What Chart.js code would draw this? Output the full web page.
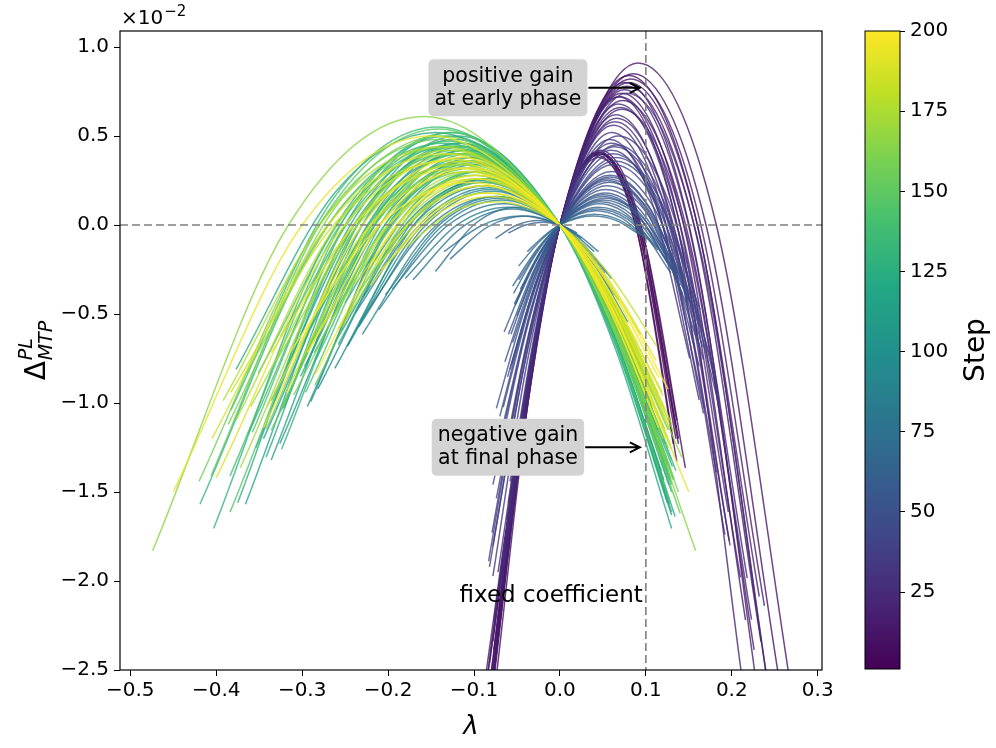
<!DOCTYPE html>
<html>
<head>
<meta charset="utf-8">
<script src="https://cdn.jsdelivr.net/npm/chart.js@4.4.1/dist/chart.umd.min.js"></script>
<style>
  html, body { margin: 0; padding: 0; background: #fff; }
  #wrap { position: relative; width: 996px; height: 748px; }
  canvas { position: absolute; left: 0; top: 0; }
</style>
</head>
<body>
<div id="wrap">
  <canvas id="curveChart" width="996" height="748"></canvas>
  <canvas id="stepBar" width="996" height="748"></canvas>
</div>
<script>
// --- axis ticks ---
const xTicks = [-0.5, -0.4, -0.3, -0.2, -0.1, 0, 0.1, 0.2, 0.3];
const yTicks = [-2.5, -2.0, -1.5, -1.0, -0.5, 0, 0.5, 1.0];
const stepTicks = [25, 50, 75, 100, 125, 150, 175, 200];
const stepMin = 1, stepMax = 200;

// reference lines (dashed)
const refDelta = 0;
const refLambda = 0.1;

// --- curves: one per step, lambda / delta (x10^-2) ---
const curveSteps = [
  165, 193, 188, 148, 128, 140, 176, 183, 135, 118,
  170, 158, 125, 197, 145, 180, 112, 155, 199, 133,
  172, 115, 162, 186, 105, 150, 195, 100, 178, 138,
  122, 160, 190, 168, 108, 185, 143, 198, 175, 152,
  130, 120, 192, 182, 103, 142, 157, 173, 113, 127,
  101, 107, 111, 116, 121, 126, 131, 136, 141, 146,
  151, 154, 159, 163, 167, 171, 177, 184, 189, 194, 200, 117, 106,
  95, 88, 82, 78, 72, 64, 60, 90, 98, 85, 75, 93, 80, 96, 91, 86, 77, 73,
  68, 62, 58, 55, 52, 50, 48, 45, 44, 65, 60, 56, 53, 47, 42, 40, 38, 36, 70, 34, 57, 49, 41,
  63, 54, 46, 39, 37,
  1, 3, 5, 7, 9, 2, 4, 6, 12, 15, 18, 11, 20, 14, 22, 16, 24, 13, 26, 19, 28, 30, 17, 21, 10, 25, 32, 27, 23, 33, 8
];

const curveLambda = [
  [-0.474, -0.316, -0.158, 0, 0.079, 0.158],
  [-0.45, -0.3, -0.15, 0, 0.075, 0.15],
  [-0.405, -0.27, -0.135, 0, 0.061, 0.122],
  [-0.406, -0.273, -0.14, 0, 0.07, 0.14],
  [-0.403, -0.267, -0.13, 0, 0.065, 0.13],
  [-0.384, -0.256, -0.128, 0, 0.064, 0.128],
  [-0.377, -0.254, -0.13, 0, 0.065, 0.13],
  [-0.383, -0.257, -0.132, 0, 0.059, 0.119],
  [-0.363, -0.244, -0.125, 0, 0.063, 0.125],
  [-0.354, -0.238, -0.122, 0, 0.067, 0.134],
  [-0.372, -0.246, -0.12, 0, 0.06, 0.12],
  [-0.342, -0.23, -0.118, 0, 0.059, 0.118],
  [-0.322, -0.219, -0.115, 0, 0.063, 0.127],
  [-0.345, -0.23, -0.115, 0, 0.058, 0.115],
  [-0.325, -0.218, -0.112, 0, 0.062, 0.123],
  [-0.319, -0.215, -0.11, 0, 0.055, 0.11],
  [-0.297, -0.204, -0.11, 0, 0.061, 0.121],
  [-0.324, -0.216, -0.108, 0, 0.054, 0.108],
  [-0.294, -0.2, -0.105, 0, 0.053, 0.105],
  [-0.284, -0.194, -0.105, 0, 0.063, 0.126],
  [-0.27, -0.185, -0.1, 0, 0.05, 0.1],
  [-0.25, -0.175, -0.1, 0, 0.06, 0.12],
  [-0.245, -0.172, -0.098, 0, 0.054, 0.108],
  [-0.238, -0.166, -0.095, 0, 0.048, 0.095],
  [-0.228, -0.162, -0.095, 0, 0.057, 0.114],
  [-0.234, -0.162, -0.09, 0, 0.05, 0.099],
  [-0.216, -0.153, -0.09, 0, 0.045, 0.09],
  [-0.229, -0.158, -0.088, 0, 0.053, 0.106],
  [-0.213, -0.149, -0.085, 0, 0.047, 0.094],
  [-0.383, -0.263, -0.142, 0, 0.064, 0.128],
  [-0.377, -0.261, -0.145, 0, 0.065, 0.131],
  [-0.386, -0.262, -0.138, 0, 0.069, 0.138],
  [-0.4, -0.263, -0.125, 0, 0.063, 0.125],
  [-0.33, -0.224, -0.118, 0, 0.071, 0.142],
  [-0.336, -0.228, -0.12, 0, 0.06, 0.12],
  [-0.341, -0.226, -0.11, 0, 0.061, 0.121],
  [-0.296, -0.199, -0.102, 0, 0.061, 0.122],
  [-0.285, -0.19, -0.095, 0, 0.062, 0.124],
  [-0.258, -0.175, -0.092, 0, 0.064, 0.129],
  [-0.336, -0.221, -0.105, 0, 0.063, 0.126],
  [-0.419, -0.277, -0.135, 0, 0.068, 0.135],
  [-0.342, -0.23, -0.118, 0, 0.065, 0.13],
  [-0.208, -0.144, -0.08, 0, 0.056, 0.112],
  [-0.18, -0.128, -0.075, 0, 0.056, 0.113],
  [-0.29, -0.195, -0.1, 0, 0.065, 0.13],
  [-0.358, -0.243, -0.128, 0, 0.064, 0.128],
  [-0.42, -0.28, -0.14, 0, 0.063, 0.126],
  [-0.36, -0.24, -0.12, 0, 0.066, 0.132],
  [-0.345, -0.23, -0.115, 0, 0.058, 0.115],
  [-0.324, -0.216, -0.108, 0, 0.065, 0.13],
  [-0.294, -0.196, -0.098, 0, 0.064, 0.127],
  [-0.326, -0.215, -0.105, 0, 0.063, 0.126],
  [-0.336, -0.224, -0.112, 0, 0.062, 0.123],
  [-0.366, -0.242, -0.118, 0, 0.059, 0.118],
  [-0.302, -0.205, -0.108, 0, 0.065, 0.13],
  [-0.375, -0.25, -0.125, 0, 0.063, 0.125],
  [-0.302, -0.207, -0.112, 0, 0.062, 0.123],
  [-0.286, -0.194, -0.102, 0, 0.061, 0.122],
  [-0.351, -0.241, -0.13, 0, 0.065, 0.13],
  [-0.384, -0.252, -0.12, 0, 0.066, 0.132],
  [-0.285, -0.19, -0.095, 0, 0.067, 0.133],
  [-0.325, -0.225, -0.125, 0, 0.063, 0.125],
  [-0.31, -0.205, -0.1, 0, 0.06, 0.12],
  [-0.365, -0.25, -0.135, 0, 0.061, 0.122],
  [-0.286, -0.198, -0.11, 0, 0.061, 0.121],
  [-0.255, -0.172, -0.088, 0, 0.057, 0.114],
  [-0.392, -0.266, -0.14, 0, 0.063, 0.126],
  [-0.29, -0.195, -0.1, 0, 0.065, 0.13],
  [-0.336, -0.228, -0.12, 0, 0.06, 0.12],
  [-0.221, -0.152, -0.082, 0, 0.057, 0.115],
  [-0.315, -0.21, -0.105, 0, 0.063, 0.126],
  [-0.258, -0.175, -0.092, 0, 0.064, 0.129],
  [-0.247, -0.166, -0.085, 0, 0.064, 0.128],
  [-0.248, -0.164, -0.08, 0, 0.036, 0.072],
  [-0.234, -0.156, -0.078, 0, 0.031, 0.062],
  [-0.203, -0.137, -0.07, 0, 0.032, 0.063],
  [-0.195, -0.13, -0.065, 0, 0.026, 0.052],
  [-0.145, -0.098, -0.05, 0, 0.02, 0.04],
  [-0.075, -0.05, -0.025, 0, 0.013, 0.025],
  [-0.06, -0.04, -0.02, 0, 0.01, 0.02],
  [-0.238, -0.162, -0.085, 0, 0.043, 0.085],
  [-0.261, -0.176, -0.09, 0, 0.05, 0.099],
  [-0.18, -0.12, -0.06, 0, 0.03, 0.06],
  [-0.135, -0.09, -0.045, 0, 0.023, 0.045],
  [-0.262, -0.172, -0.082, 0, 0.041, 0.082],
  [-0.233, -0.154, -0.075, 0, 0.034, 0.068],
  [-0.282, -0.185, -0.088, 0, 0.044, 0.088],
  [-0.23, -0.151, -0.072, 0, 0.04, 0.079],
  [-0.211, -0.139, -0.068, 0, 0.034, 0.068],
  [-0.171, -0.113, -0.055, 0, 0.028, 0.055],
  [-0.128, -0.084, -0.04, 0, 0.02, 0.04],
  [-0.048, -0.024, 0, 0.04, 0.07, 0.1],
  [-0.054, -0.027, 0, 0.045, 0.079, 0.113],
  [-0.053, -0.026, 0, 0.048, 0.086, 0.125],
  [-0.06, -0.03, 0, 0.05, 0.09, 0.13],
  [-0.057, -0.029, 0, 0.052, 0.096, 0.14],
  [-0.055, -0.028, 0, 0.055, 0.102, 0.149],
  [-0.061, -0.03, 0, 0.055, 0.099, 0.143],
  [-0.07, -0.035, 0, 0.058, 0.104, 0.151],
  [-0.066, -0.033, 0, 0.06, 0.111, 0.162],
  [-0.055, -0.027, 0, 0.042, 0.071, 0.101],
  [-0.046, -0.023, 0, 0.046, 0.087, 0.129],
  [-0.065, -0.033, 0, 0.05, 0.088, 0.125],
  [-0.064, -0.032, 0, 0.053, 0.101, 0.148],
  [-0.074, -0.037, 0, 0.057, 0.1, 0.143],
  [-0.068, -0.034, 0, 0.062, 0.112, 0.161],
  [-0.078, -0.039, 0, 0.065, 0.114, 0.163],
  [-0.078, -0.039, 0, 0.06, 0.111, 0.162],
  [-0.079, -0.04, 0, 0.066, 0.125, 0.185],
  [-0.038, -0.019, 0, 0.038, 0.065, 0.091],
  [-0.082, -0.041, 0, 0.068, 0.126, 0.184],
  [-0.05, -0.025, 0, 0.05, 0.088, 0.125],
  [-0.056, -0.028, 0, 0.056, 0.109, 0.162],
  [-0.07, -0.035, 0, 0.064, 0.122, 0.179],
  [-0.048, -0.024, 0, 0.044, 0.079, 0.114],
  [-0.052, -0.026, 0, 0.052, 0.096, 0.14],
  [-0.058, -0.029, 0, 0.058, 0.104, 0.151],
  [-0.074, -0.037, 0, 0.062, 0.115, 0.167],
  [-0.083, -0.042, 0, 0.064, 0.115, 0.166],
  [-0.077, -0.038, 0, 0.045, 0.09, 0.135],
  [-0.078, -0.039, 0, 0.046, 0.092, 0.138],
  [-0.075, -0.037, 0, 0.044, 0.09, 0.136],
  [-0.075, -0.038, 0, 0.047, 0.092, 0.136],
  [-0.077, -0.038, 0, 0.045, 0.09, 0.135],
  [-0.083, -0.041, 0, 0.046, 0.092, 0.138],
  [-0.075, -0.037, 0, 0.044, 0.088, 0.132],
  [-0.08, -0.04, 0, 0.047, 0.096, 0.146],
  [-0.087, -0.043, 0, 0.091, 0.182, 0.273],
  [-0.082, -0.041, 0, 0.082, 0.16, 0.238],
  [-0.072, -0.036, 0, 0.08, 0.156, 0.232],
  [-0.078, -0.039, 0, 0.078, 0.156, 0.234],
  [-0.06, -0.03, 0, 0.075, 0.146, 0.218],
  [-0.079, -0.04, 0, 0.072, 0.144, 0.216],
  [-0.063, -0.032, 0, 0.07, 0.133, 0.196],
  [-0.083, -0.041, 0, 0.075, 0.154, 0.233],
  [-0.068, -0.034, 0, 0.068, 0.133, 0.197],
  [-0.073, -0.037, 0, 0.073, 0.15, 0.226],
  [-0.072, -0.036, 0, 0.065, 0.124, 0.182],
  [-0.084, -0.042, 0, 0.07, 0.14, 0.21],
  [-0.068, -0.034, 0, 0.062, 0.115, 0.167],
  [-0.06, -0.03, 0, 0.06, 0.111, 0.162],
  [-0.082, -0.041, 0, 0.068, 0.143, 0.218],
  [-0.059, -0.03, 0, 0.066, 0.132, 0.198],
  [-0.085, -0.043, 0, 0.085, 0.17, 0.255],
  [-0.077, -0.038, 0, 0.064, 0.128, 0.192],
  [-0.058, -0.029, 0, 0.058, 0.104, 0.151],
  [-0.062, -0.031, 0, 0.078, 0.164, 0.25],
  [-0.072, -0.036, 0, 0.072, 0.148, 0.223],
  [-0.078, -0.039, 0, 0.06, 0.114, 0.168],
  [-0.08, -0.04, 0, 0.08, 0.16, 0.24]
];

const curveDelta = [
  [-1.83, 0, 0.61, 0, -0.763, -1.83],
  [-1.5, 0, 0.5, 0, -0.625, -1.5],
  [-1.2, 0, 0.4, 0, -0.441, -1.044],
  [-1.409, 0.053, 0.54, 0, -0.675, -1.62],
  [-1.705, -0.051, 0.5, 0, -0.625, -1.5],
  [-1.41, 0, 0.47, 0, -0.588, -1.41],
  [-1.096, 0.041, 0.42, 0, -0.525, -1.26],
  [-0.94, 0.035, 0.36, 0, -0.397, -0.94],
  [-1.175, 0.044, 0.45, 0, -0.563, -1.35],
  [-1.253, 0.047, 0.48, 0, -0.673, -1.637],
  [-1.364, -0.041, 0.4, 0, -0.5, -1.2],
  [-1.148, 0.043, 0.44, 0, -0.55, -1.32],
  [-1.03, 0.087, 0.46, 0, -0.645, -1.569],
  [-1.14, 0, 0.38, 0, -0.475, -1.14],
  [-1.044, 0.039, 0.4, 0, -0.561, -1.364],
  [-0.94, 0.035, 0.36, 0, -0.45, -1.08],
  [-0.794, 0.117, 0.42, 0, -0.589, -1.432],
  [-1.02, 0, 0.34, 0, -0.425, -1.02],
  [-0.717, 0.061, 0.32, 0, -0.4, -0.96],
  [-0.756, 0.111, 0.4, 0, -0.624, -1.536],
  [-0.567, 0.083, 0.3, 0, -0.375, -0.9],
  [-0.438, 0.153, 0.35, 0, -0.546, -1.344],
  [-0.35, 0.123, 0.28, 0, -0.393, -0.955],
  [-0.325, 0.114, 0.26, 0, -0.325, -0.78],
  [-0.288, 0.153, 0.3, 0, -0.468, -1.152],
  [-0.374, 0.086, 0.24, 0, -0.337, -0.818],
  [-0.211, 0.112, 0.22, 0, -0.275, -0.66],
  [-0.406, 0.094, 0.26, 0, -0.406, -0.998],
  [-0.225, 0.079, 0.18, 0, -0.253, -0.614],
  [-1.04, 0.153, 0.55, 0, -0.606, -1.436],
  [-0.811, 0.187, 0.52, 0, -0.573, -1.357],
  [-1.12, 0.095, 0.5, 0, -0.625, -1.5],
  [-1.421, -0.078, 0.37, 0, -0.463, -1.11],
  [-0.762, 0.065, 0.34, 0, -0.53, -1.306],
  [-0.986, 0.084, 0.44, 0, -0.55, -1.32],
  [-1.023, -0.031, 0.3, 0, -0.421, -1.023],
  [-0.94, 0.035, 0.36, 0, -0.562, -1.382],
  [-0.84, 0, 0.28, 0, -0.482, -1.201],
  [-0.582, 0.049, 0.26, 0, -0.491, -1.238],
  [-1.152, -0.063, 0.3, 0, -0.468, -1.152],
  [-1.569, -0.047, 0.46, 0, -0.575, -1.38],
  [-1.305, 0.049, 0.5, 0, -0.701, -1.705],
  [-0.25, 0.058, 0.16, 0, -0.302, -0.762],
  [-0.125, 0.066, 0.13, 0, -0.268, -0.683],
  [-0.992, 0.037, 0.38, 0, -0.655, -1.63],
  [-1.165, 0.099, 0.52, 0, -0.65, -1.56],
  [-1.44, 0, 0.48, 0, -0.529, -1.253],
  [-1.02, 0, 0.34, 0, -0.477, -1.159],
  [-1.2, 0, 0.4, 0, -0.5, -1.2],
  [-1.26, 0, 0.42, 0, -0.655, -1.613],
  [-1.02, 0, 0.34, 0, -0.586, -1.459],
  [-1.228, -0.037, 0.36, 0, -0.562, -1.382],
  [-1.32, 0, 0.44, 0, -0.617, -1.5],
  [-1.569, -0.047, 0.46, 0, -0.575, -1.38],
  [-0.851, 0.072, 0.38, 0, -0.593, -1.459],
  [-1.56, 0, 0.52, 0, -0.65, -1.56],
  [-0.68, 0.1, 0.36, 0, -0.505, -1.228],
  [-0.717, 0.061, 0.32, 0, -0.499, -1.229],
  [-0.832, 0.122, 0.44, 0, -0.55, -1.32],
  [-1.613, -0.088, 0.42, 0, -0.589, -1.432],
  [-0.9, 0, 0.3, 0, -0.567, -1.428],
  [-0.624, 0.144, 0.4, 0, -0.5, -1.2],
  [-0.955, -0.029, 0.28, 0, -0.437, -1.075],
  [-0.832, 0.122, 0.44, 0, -0.485, -1.148],
  [-0.499, 0.115, 0.32, 0, -0.449, -1.091],
  [-0.574, 0.021, 0.22, 0, -0.379, -0.944],
  [-0.986, 0.084, 0.44, 0, -0.485, -1.148],
  [-0.679, 0.025, 0.26, 0, -0.448, -1.115],
  [-0.717, 0.061, 0.32, 0, -0.4, -0.96],
  [-0.34, 0.05, 0.18, 0, -0.34, -0.857],
  [-0.72, 0, 0.24, 0, -0.374, -0.922],
  [-0.672, 0.057, 0.3, 0, -0.567, -1.428],
  [-0.679, 0.025, 0.26, 0, -0.536, -1.365],
  [-0.682, -0.021, 0.2, 0, -0.221, -0.522],
  [-0.57, 0, 0.19, 0, -0.182, -0.426],
  [-0.392, 0.015, 0.15, 0, -0.165, -0.392],
  [-0.36, 0, 0.12, 0, -0.115, -0.269],
  [-0.261, 0.01, 0.1, 0, -0.096, -0.224],
  [-0.075, 0, 0.025, 0, -0.031, -0.075],
  [-0.045, 0, 0.015, 0, -0.019, -0.045],
  [-0.493, 0.042, 0.22, 0, -0.275, -0.66],
  [-0.653, 0.024, 0.25, 0, -0.351, -0.853],
  [-0.3, 0, 0.1, 0, -0.125, -0.3],
  [-0.15, 0, 0.05, 0, -0.063, -0.15],
  [-0.806, -0.044, 0.21, 0, -0.263, -0.63],
  [-0.546, -0.016, 0.16, 0, -0.176, -0.418],
  [-0.922, -0.05, 0.24, 0, -0.3, -0.72],
  [-0.614, -0.034, 0.16, 0, -0.224, -0.546],
  [-0.477, -0.014, 0.14, 0, -0.175, -0.42],
  [-0.307, -0.009, 0.09, 0, -0.113, -0.27],
  [-0.192, -0.011, 0.05, 0, -0.063, -0.15],
  [-0.23, -0.094, 0, 0.06, 0.026, -0.075],
  [-0.384, -0.156, 0, 0.1, 0.044, -0.125],
  [-0.443, -0.182, 0, 0.13, 0.047, -0.203],
  [-0.614, -0.25, 0, 0.16, 0.058, -0.25],
  [-0.614, -0.253, 0, 0.18, 0.05, -0.34],
  [-0.66, -0.275, 0, 0.22, 0.061, -0.416],
  [-0.853, -0.351, 0, 0.25, 0.09, -0.39],
  [-1.075, -0.437, 0, 0.28, 0.101, -0.437],
  [-1.023, -0.421, 0, 0.3, 0.083, -0.567],
  [-0.343, -0.138, 0, 0.08, 0.041, -0.077],
  [-0.36, -0.15, 0, 0.12, 0.023, -0.269],
  [-0.601, -0.241, 0, 0.14, 0.061, -0.175],
  [-0.768, -0.312, 0, 0.2, 0.038, -0.448],
  [-1.03, -0.413, 0, 0.24, 0.105, -0.3],
  [-1.159, -0.477, 0, 0.34, 0.122, -0.53],
  [-1.459, -0.593, 0, 0.38, 0.166, -0.475],
  [-1.802, -0.724, 0, 0.42, 0.117, -0.794],
  [-1.728, -0.702, 0, 0.45, 0.086, -1.008],
  [-0.15, -0.063, 0, 0.05, 0.026, -0.048],
  [-1.92, -0.78, 0, 0.5, 0.139, -0.945],
  [-0.51, -0.213, 0, 0.17, 0.074, -0.213],
  [-0.78, -0.325, 0, 0.26, 0.025, -0.679],
  [-1.228, -0.505, 0, 0.36, 0.068, -0.806],
  [-0.307, -0.126, 0, 0.09, 0.032, -0.14],
  [-0.45, -0.188, 0, 0.15, 0.042, -0.284],
  [-0.81, -0.338, 0, 0.27, 0.097, -0.421],
  [-1.536, -0.624, 0, 0.4, 0.111, -0.756],
  [-1.888, -0.758, 0, 0.44, 0.158, -0.686],
  [-2.516, -0.969, 0, 0.4, 0, -1.2],
  [-2.579, -0.993, 0, 0.41, 0, -1.23],
  [-2.453, -0.945, 0, 0.39, -0.04, -1.33],
  [-2.419, -0.941, 0, 0.42, 0.041, -1.096],
  [-2.39, -0.921, 0, 0.38, 0, -1.14],
  [-2.736, -1.044, 0, 0.4, 0, -1.2],
  [-2.579, -0.993, 0, 0.41, 0, -1.23],
  [-2.516, -0.969, 0, 0.4, -0.041, -1.364],
  [-2.55, -1.07, 0, 0.91, 0, -2.73],
  [-2.46, -1.025, 0, 0.82, 0.08, -2.14],
  [-2.088, -0.882, 0, 0.8, 0.078, -2.088],
  [-2.34, -0.975, 0, 0.78, 0, -2.34],
  [-1.702, -0.73, 0, 0.76, 0.074, -1.984],
  [-2.523, -1.038, 0, 0.74, 0, -2.22],
  [-1.879, -0.794, 0, 0.72, 0.137, -1.613],
  [-2.728, -1.122, 0, 0.8, -0.082, -2.728],
  [-2.04, -0.85, 0, 0.68, 0.066, -1.775],
  [-2.1, -0.875, 0, 0.7, -0.072, -2.387],
  [-2.114, -0.87, 0, 0.62, 0.118, -1.389],
  [-2.534, -1.03, 0, 0.66, 0, -1.98],
  [-1.91, -0.785, 0, 0.56, 0.155, -1.058],
  [-1.56, -0.65, 0, 0.52, 0.144, -0.983],
  [-2.765, -1.123, 0, 0.72, -0.151, -2.765],
  [-1.566, -0.662, 0, 0.6, 0, -1.8],
  [-2.55, -1.063, 0, 0.85, 0, -2.55],
  [-2.227, -0.905, 0, 0.58, 0, -1.74],
  [-1.44, -0.6, 0, 0.48, 0.173, -0.749],
  [-1.658, -0.71, 0, 0.74, -0.155, -2.842],
  [-1.95, -0.813, 0, 0.65, -0.067, -2.217],
  [-1.973, -0.792, 0, 0.46, 0.087, -1.03],
  [-2.52, -1.05, 0, 0.84, 0, -2.52]
];

// annotations (data coordinates)
const noteLines = [['positive gain', 'at early phase'], ['negative gain', 'at final phase']];
const noteCenter = [[-0.0605, 0.771], [-0.0605, -1.249]];
const noteTip = [[0.093, 0.771], [0.093, -1.249]];
const fixedLabel = 'fixed coefficient';
const fixedAt = [0.0965, -2.086];

const FONT = '"DejaVu Sans", "Liberation Sans", sans-serif';
Chart.defaults.font.family = FONT;
Chart.defaults.color = '#000';

const viridisStops = ['#440154', '#482475', '#414487', '#355f8d', '#2a788e', '#21918c',
                      '#22a884', '#44bf70', '#7ad151', '#bddf26', '#fde725'];

function hexRgb(h) {
    return [1, 3, 5].map(i => parseInt(h.slice(i, i + 2), 16));
}

function viridis(t, alpha) {
    t = Math.min(1, Math.max(0, t));
    const f = t * (viridisStops.length - 1);
    const i = Math.min(Math.floor(f), viridisStops.length - 2);
    const a = hexRgb(viridisStops[i]), b = hexRgb(viridisStops[i + 1]);
    const k = f - i;
    const c = a.map((v, j) => Math.round(v + (b[j] - v) * k));
    return `rgba(${c[0]},${c[1]},${c[2]},${alpha})`;
}

const fmtTick = v => (v < 0 ? '\u2212' : '') + Math.abs(v).toFixed(1);

// --- main plot ---
const datasets = curveSteps.map((s, i) => ({
    data: curveLambda[i].map((l, j) => ({ x: l, y: curveDelta[i][j] })),
    borderColor: viridis((s - stepMin) / (stepMax - stepMin), 0.78),
    borderWidth: 1.5,
    pointRadius: 0,
    fill: false,
    cubicInterpolationMode: 'monotone',
    order: -s
}));

function drawNote(ctx, x, y, i) {
    const lines = noteLines[i];
    ctx.font = '20.5px ' + FONT;
    const w = Math.max(...lines.map(t => ctx.measureText(t).width));
    const lineH = 23;
    const boxW = w + 12, boxH = 57;
    const cx = x.getPixelForValue(noteCenter[i][0]);
    const cy = y.getPixelForValue(noteCenter[i][1]);
    ctx.fillStyle = '#d3d3d3';
    ctx.beginPath();
    ctx.roundRect(cx - boxW / 2, cy - boxH / 2, boxW, boxH, 5);
    ctx.fill();
    ctx.fillStyle = '#000';
    ctx.textAlign = 'center';
    ctx.textBaseline = 'middle';
    ctx.fillText(lines[0], cx, cy - lineH / 2);
    ctx.fillText(lines[1], cx, cy + lineH / 2);
    // arrow
    const tx = x.getPixelForValue(noteTip[i][0]);
    const ty = y.getPixelForValue(noteTip[i][1]);
    ctx.strokeStyle = '#000';
    ctx.lineWidth = 2;
    ctx.beginPath();
    ctx.moveTo(cx + boxW / 2 + 1, ty);
    ctx.lineTo(tx, ty);
    ctx.moveTo(tx - 10, ty - 5);
    ctx.lineTo(tx, ty);
    ctx.lineTo(tx - 10, ty + 5);
    ctx.stroke();
}

const overlayPlugin = {
    id: 'overlay',
    afterDatasetsDraw(chart) {
        const { ctx, chartArea: a, scales: { x, y } } = chart;
        ctx.save();
        // dashed reference lines
        ctx.strokeStyle = '#808080';
        ctx.lineWidth = 1.6;
        ctx.setLineDash([8, 4]);
        const y0 = y.getPixelForValue(refDelta);
        ctx.beginPath(); ctx.moveTo(a.left, y0); ctx.lineTo(a.right, y0); ctx.stroke();
        const x0 = x.getPixelForValue(refLambda);
        ctx.beginPath(); ctx.moveTo(x0, a.top); ctx.lineTo(x0, a.bottom); ctx.stroke();
        ctx.setLineDash([]);

        // frame
        ctx.strokeStyle = '#000';
        ctx.lineWidth = 1.2;
        ctx.strokeRect(a.left, a.top, a.right - a.left, a.bottom - a.top);

        drawNote(ctx, x, y, 0);
        drawNote(ctx, x, y, 1);

        ctx.font = '23px ' + FONT;
        ctx.fillStyle = '#000';
        ctx.textAlign = 'right';
        ctx.textBaseline = 'middle';
        ctx.fillText(fixedLabel, x.getPixelForValue(fixedAt[0]), y.getPixelForValue(fixedAt[1]));

        // offset text x10^-2
        ctx.textAlign = 'left';
        ctx.textBaseline = 'alphabetic';
        ctx.font = '20px ' + FONT;
        ctx.fillText('\u00d710', a.left + 1, a.top - 7);
        const w10 = ctx.measureText('\u00d710').width;
        ctx.font = '15px ' + FONT;
        ctx.fillText('\u22122', a.left + 1 + w10 + 1, a.top - 15);

        // x title
        ctx.font = 'italic 26px ' + FONT;
        ctx.textAlign = 'center';
        ctx.fillText('\u03bb', (a.left + a.right) / 2, 734);

        // y title: Delta^{PL}_{MTP}
        ctx.translate(45, (a.top + a.bottom) / 2);
        ctx.rotate(-Math.PI / 2);
        ctx.font = '28px ' + FONT;
        const wD = ctx.measureText('\u0394').width;
        ctx.font = 'italic 19px ' + FONT;
        const wS = Math.max(ctx.measureText('PL').width, ctx.measureText('MTP').width);
        const start = -(wD + 1 + wS) / 2;
        ctx.textAlign = 'left';
        ctx.font = '28px ' + FONT;
        ctx.fillText('\u0394', start, 0);
        ctx.font = 'italic 19px ' + FONT;
        ctx.fillText('PL', start + wD + 1, -13);
        ctx.fillText('MTP', start + wD + 1, 7);
        ctx.restore();
    }
};

new Chart(document.getElementById('curveChart'), {
    type: 'line',
    data: { datasets },
    options: {
        responsive: false,
        animation: false,
        events: [],
        layout: { padding: { left: 0, right: 174, top: 31, bottom: 0 } },
        elements: { line: { capBezierPoints: false } },
        plugins: { legend: { display: false }, tooltip: { enabled: false } },
        scales: {
            x: {
                type: 'linear',
                min: -0.512,
                max: 0.305,
                afterBuildTicks: ax => { ax.ticks = xTicks.map(v => ({ value: v })); },
                afterFit: ax => { ax.height = 78; },
                ticks: { font: { size: 20 }, color: '#000', padding: 3, maxRotation: 0, autoSkip: false, callback: v => fmtTick(v) },
                grid: { drawOnChartArea: false, tickLength: 6, color: '#000' },
                border: { display: false }
            },
            y: {
                type: 'linear',
                min: -2.5,
                max: 1.09,
                afterBuildTicks: ax => { ax.ticks = yTicks.map(v => ({ value: v })); },
                afterFit: ax => { ax.width = 120; },
                ticks: { font: { size: 20 }, color: '#000', padding: 5, autoSkip: false, callback: v => fmtTick(v) },
                grid: { drawOnChartArea: false, tickLength: 6, color: '#000' },
                border: { display: false }
            }
        }
    },
    plugins: [overlayPlugin]
});

// --- colour bar ---
function stepGradient(chart) {
    const a = chart.chartArea;
    if (!a) return viridisStops[5];
    const g = chart.ctx.createLinearGradient(0, a.bottom, 0, a.top);
    for (let i = 0; i <= 40; i++) g.addColorStop(i / 40, viridis(i / 40, 1));
    return g;
}

const colorbarPlugin = {
    id: 'colorbarFrame',
    afterDatasetsDraw(chart) {
        const { ctx, chartArea: a } = chart;
        ctx.save();
        ctx.strokeStyle = '#000';
        ctx.lineWidth = 1;
        ctx.strokeRect(a.left, a.top, a.right - a.left, a.bottom - a.top);
        ctx.translate(977, (a.top + a.bottom) / 2);
        ctx.rotate(-Math.PI / 2);
        ctx.font = '28px ' + FONT;
        ctx.fillStyle = '#000';
        ctx.textAlign = 'center';
        ctx.textBaseline = 'middle';
        ctx.fillText('Step', 0, 0);
        ctx.restore();
    }
};

new Chart(document.getElementById('stepBar'), {
    type: 'bar',
    data: {
        labels: ['Step'],
        datasets: [{
            data: [[stepMin, stepMax]],
            backgroundColor: c => stepGradient(c.chart),
            borderWidth: 0,
            barPercentage: 1,
            categoryPercentage: 1
        }]
    },
    options: {
        responsive: false,
        animation: false,
        events: [],
        layout: { padding: { left: 865, right: 0, top: 31, bottom: 79 } },
        plugins: { legend: { display: false }, tooltip: { enabled: false } },
        scales: {
            x: { display: false },
            y: {
                position: 'right',
                min: stepMin,
                max: stepMax,
                afterBuildTicks: ax => { ax.ticks = stepTicks.map(v => ({ value: v })); },
                afterFit: ax => { ax.width = 96; },
                ticks: { font: { size: 20 }, color: '#000', padding: 5, autoSkip: false },
                grid: { drawOnChartArea: false, tickLength: 5, color: '#000' },
                border: { display: false }
            }
        }
    },
    plugins: [colorbarPlugin]
});
</script>
</body>
</html>
